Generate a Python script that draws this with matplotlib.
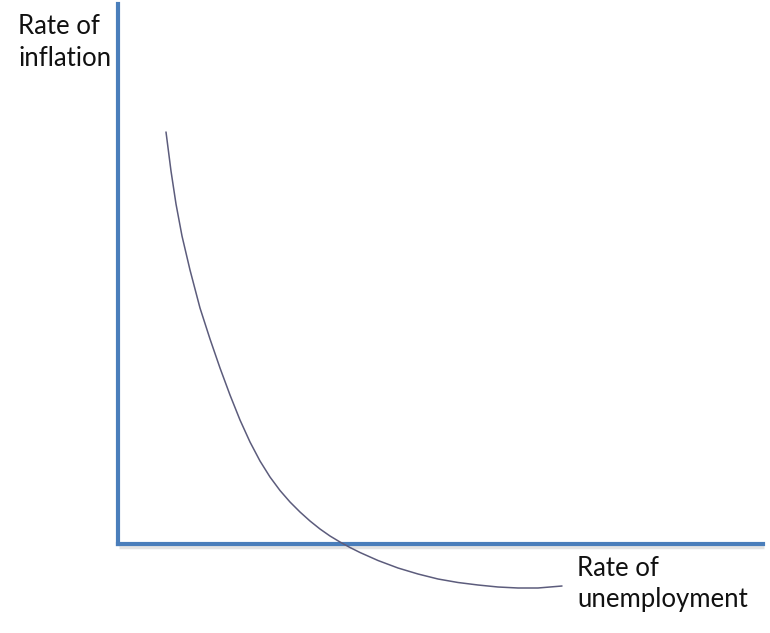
import matplotlib
matplotlib.use("Agg")
import matplotlib.pyplot as plt

# Phillips curve (origin at the corner of the axes)
unemployment = [4.8, 5.3, 5.8, 6.4, 7.2, 8.2, 9.2, 10.2, 11.2, 12.2, 13.2, 14.2, 15.2, 16.2,
                17.2, 18.2, 19.2, 20.2, 21.2, 22.2, 23.2, 24.2, 26.0, 28.0, 30.0, 32.0,
                34.0, 36.0, 38.0, 40.0, 42.0, 44.4]
inflation = [41.2, 37.3, 34.0, 30.8, 27.4, 23.6, 20.5, 17.6, 14.9, 12.4, 10.2, 8.3, 6.7, 5.35,
             4.2, 3.2, 2.3, 1.5, 0.8, 0.2, -0.35, -0.85, -1.65, -2.4, -3.0, -3.5,
             -3.85, -4.1, -4.3, -4.4, -4.4, -4.2]

x_label = "Rate of\nunemployment"
y_label = "Rate of\ninflation"

fig = plt.figure(figsize=(7.70, 6.33), dpi=100)
ax = fig.add_axes([0, 0, 1, 1])
ax.set_xlim(-11.8, 65.2)
ax.set_ylim(-8.9, 54.4)
ax.axis("off")

axis_color = "#4A7EBB"
# soft shadow of the horizontal axis
ax.plot([0.1, 64.6], [-0.25, -0.25], color="#c8c8c8", lw=2.5, alpha=0.5, solid_capstyle="butt", zorder=1)
ax.plot([0, 0], [0, 54.0], color=axis_color, lw=3.0, solid_capstyle="projecting", zorder=2)
ax.plot([0, 64.5], [0, 0], color=axis_color, lw=3.0, solid_capstyle="projecting", zorder=2)

ax.plot(unemployment, inflation, color="#5C5C7C", lw=1.1, zorder=3,
        solid_joinstyle="round", solid_capstyle="round")

font = "Lato"
ax.text(-10.0, 53.0, y_label, ha="left", va="top", fontsize=18.5, family=font,
        color="#111111", linespacing=1.37)
ax.text(45.9, -1.2, x_label, ha="left", va="top", fontsize=18.5, family=font,
        color="#111111", linespacing=1.3)

fig.savefig("out.png", dpi=100)
